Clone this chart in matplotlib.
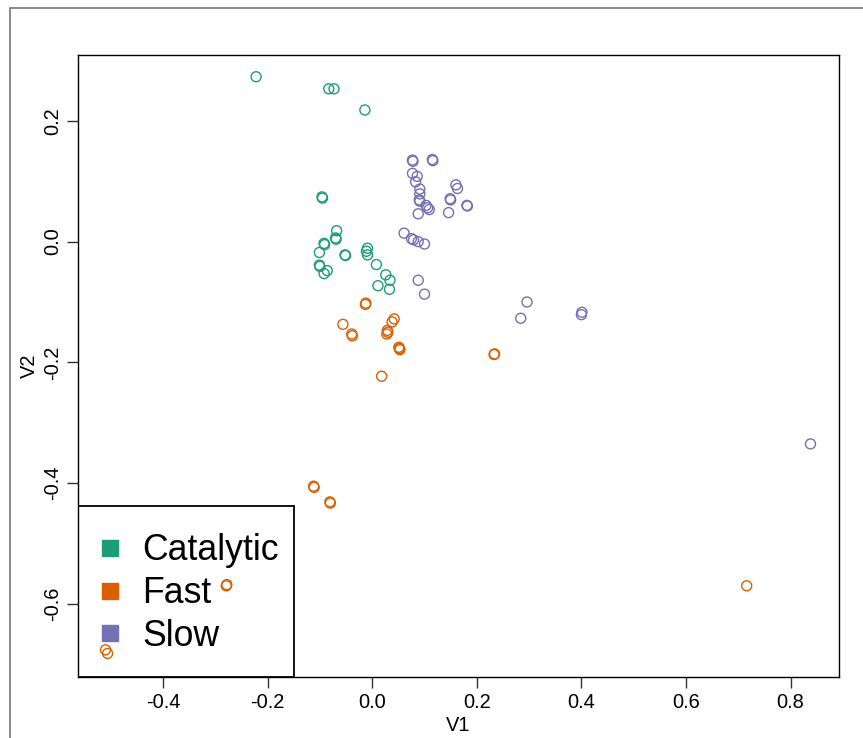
import matplotlib.pyplot as plt
from matplotlib.lines import Line2D
from matplotlib.patches import Rectangle

plt.rcParams['font.family'] = ['Liberation Sans', 'DejaVu Sans']

# ---------------------------------------------------------------
# Datos (V1, V2) por grupo
# ---------------------------------------------------------------
catalytic_v1 = [-0.222, -0.083, -0.073, -0.014, -0.096, -0.095, -0.068, -0.070, -0.069,
                -0.092, -0.091, -0.101, -0.052, -0.051, -0.101, -0.100, -0.086, -0.092,
                -0.009, -0.011, -0.009, 0.008, 0.026, 0.034, 0.011, 0.033]
catalytic_v2 = [0.273, 0.253, 0.253, 0.218, 0.074, 0.072, 0.018, 0.006, 0.004,
                -0.003, -0.005, -0.018, -0.022, -0.023, -0.039, -0.041, -0.048, -0.053,
                -0.011, -0.016, -0.022, -0.038, -0.055, -0.064, -0.073, -0.079]

fast_v1 = [-0.012, -0.013, -0.056, -0.039, -0.038, 0.042, 0.038, 0.029, 0.028, 0.030,
           0.052, 0.051, 0.053, 0.018, 0.234, 0.233, -0.111, -0.112, -0.080, -0.081,
           -0.279, -0.278, -0.510, -0.506, 0.716]
fast_v2 = [-0.102, -0.104, -0.137, -0.153, -0.156, -0.128, -0.133, -0.147, -0.153, -0.150,
           -0.177, -0.175, -0.179, -0.223, -0.186, -0.187, -0.407, -0.405, -0.433, -0.431,
           -0.570, -0.568, -0.676, -0.682, -0.570]

slow_v1 = [0.078, 0.077, 0.116, 0.115, 0.077, 0.086, 0.083, 0.091, 0.091, 0.091, 0.090,
           0.103, 0.106, 0.109, 0.088, 0.160, 0.163, 0.150, 0.149, 0.182, 0.181, 0.146,
           0.061, 0.075, 0.079, 0.088, 0.100, 0.088, 0.100, 0.296, 0.284, 0.401, 0.400, 0.838]
slow_v2 = [0.133, 0.135, 0.134, 0.136, 0.113, 0.108, 0.099, 0.087, 0.079, 0.067, 0.069,
           0.060, 0.056, 0.053, 0.046, 0.094, 0.088, 0.069, 0.071, 0.059, 0.060, 0.048,
           0.014, 0.005, 0.003, 0.000, -0.004, -0.064, -0.087, -0.100, -0.127, -0.117, -0.121, -0.335]

groups = ["Catalytic", "Fast", "Slow"]
colors = ["#1B9E77", "#D95F02", "#7570B3"]

x_ticks = [-0.4, -0.2, 0.0, 0.2, 0.4, 0.6, 0.8]
y_ticks = [0.2, 0.0, -0.2, -0.4, -0.6]

# ---------------------------------------------------------------
# Figura
# ---------------------------------------------------------------
fig = plt.figure(figsize=(8.63, 7.38), dpi=100)
W, H = 863, 738
ax = fig.add_axes([78 / W, (H - 677) / H, (839 - 78) / W, (677 - 55) / H])

datos = [(catalytic_v1, catalytic_v2), (fast_v1, fast_v2), (slow_v1, slow_v2)]
for (xs, ys), col in zip(datos, colors):
    ax.scatter(xs, ys, s=52, facecolors="none", edgecolors=col, linewidths=1.0, zorder=5)

ax.set_xlim(-0.5625, 0.8925)
ax.set_ylim(-0.721, 0.309)

ax.set_xticks(x_ticks)
ax.set_xticklabels([f"{v:.1f}" for v in x_ticks])
ax.set_yticks(y_ticks)
ax.set_yticklabels([f"{v:.1f}" for v in y_ticks], rotation=90, va="center")
ax.tick_params(direction="out", length=8, width=1.0, color="#333333",
               labelsize=14.4, pad=3.5)

for sp in ax.spines.values():
    sp.set_linewidth(1.0)

ax.set_xlabel("V1", fontsize=14.4, labelpad=3)
ax.set_ylabel("V2", fontsize=14.4, labelpad=3)

# Caja de la leyenda (como en R)
ax.add_patch(Rectangle((0, 0), (294 - 78) / 761, (676 - 505) / 622,
                       transform=ax.transAxes, fill=False,
                       edgecolor="black", linewidth=1.3, zorder=3))

handles = [Line2D([], [], linestyle="none", marker="s", markersize=12,
                  markerfacecolor=c, markeredgecolor=c) for c in colors]
leg = ax.legend(handles, groups, loc="center left", frameon=False,
                bbox_to_anchor=((101 - 78) / 761, (677 - 593.5) / 622),
                fontsize=25.7, borderpad=0, borderaxespad=0, handlelength=0.5,
                handletextpad=0.65, labelspacing=0.22)
leg.set_zorder(4)

# Marco exterior gris
fig.patches.append(Rectangle((9.5 / W, -0.05), 1.1, 1.05 - 8 / H,
                             transform=fig.transFigure, fill=False,
                             edgecolor="#777777", linewidth=1.2))

plt.savefig("out.png", dpi=100)
